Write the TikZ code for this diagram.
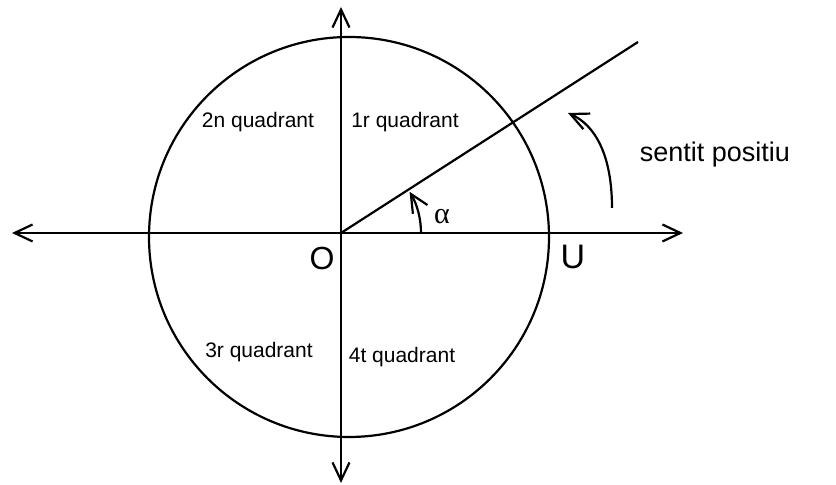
\documentclass[tikz,border=0pt]{standalone}
\usepackage{fontspec}
\setmainfont{Liberation Sans}
\newfontfamily\greekfont{Liberation Serif}
\usetikzlibrary{arrows.meta}

\begin{document}
\begin{tikzpicture}[x=0.5pt, y=0.5pt, line width=1.1pt,
    barb/.tip={Straight Barb[length=9pt, width=8.5pt]},
    axis/.style={barb-barb},
    quad/.style={font=\fontsize{10.5}{12}\selectfont}]
  \useasboundingbox (0,0) rectangle (836,485);
  % Axes through the origin.
  \coordinate (O) at (341,252);
  \coordinate (W) at (12,252);
  \coordinate (E) at (683,252);
  \coordinate (S) at (341,2);
  \coordinate (N) at (341,478);
  \draw[axis] (W) -- (E);
  \draw[axis] (S) -- (N);
  % Unit circle.
  \draw (349,248) circle[radius=200];
  % Ray at angle alpha.
  \coordinate (R) at (638,443);
  \draw (O) -- (R);
  \draw[-barb] ([shift={(0:80)}]O) arc[start angle=0, end angle=31, radius=80];
  \node[font=\greekfont\fontsize{15}{17}\selectfont] (alpha) at (442,268) {α};
  % Labels.
  \node[font=\fontsize{16}{18}\selectfont] (lO) at (322,227) {O};
  \node[font=\fontsize{17}{19}\selectfont] (lU) at (573,228) {U};
  \node[quad] (q1) at (405,363) {1r quadrant};
  \node[quad] (q2) at (258,363) {2n quadrant};
  \node[quad] (q3) at (259,133) {3r quadrant};
  \node[quad] (q4) at (402,128) {4t quadrant};
  % Positive sense.
  \node[font=\fontsize{13.5}{16}\selectfont] (sense) at (715,330) {sentit positiu};
  \coordinate (t0) at (612,277);
  \coordinate (t1) at (568,372);
  \draw[-barb] (t0) .. controls (612,330) and (595,360) .. (t1);
\end{tikzpicture}
\end{document}
